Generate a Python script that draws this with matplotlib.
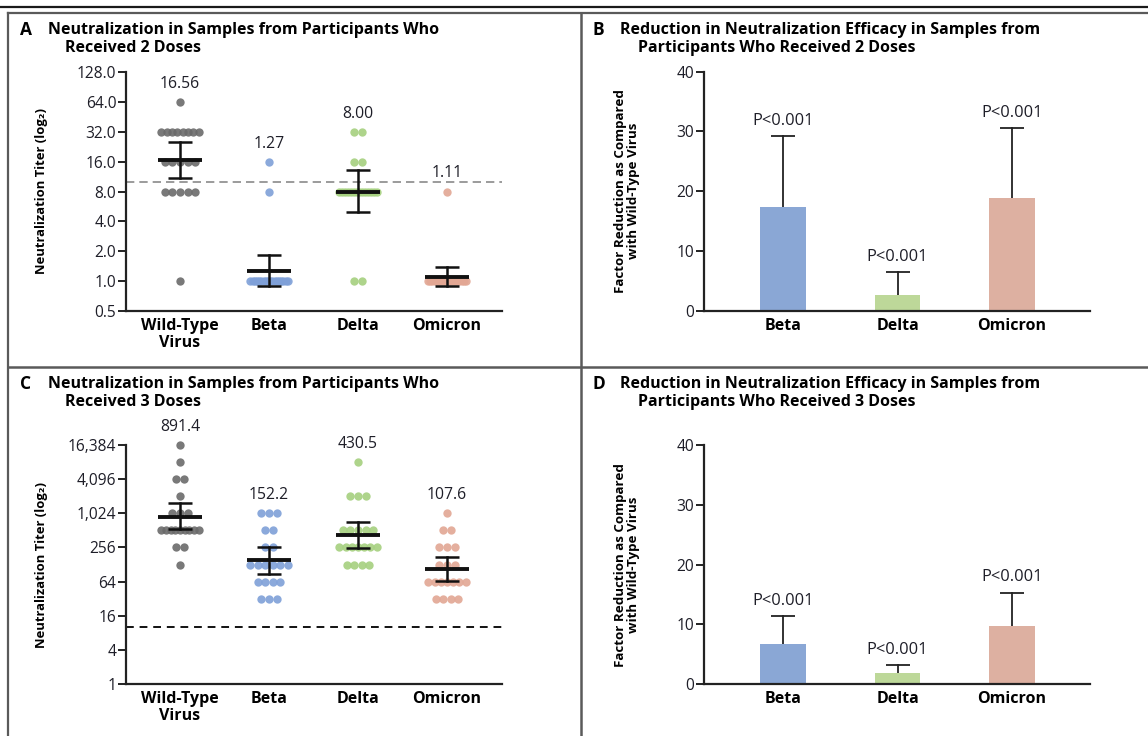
import numpy as np
import matplotlib
matplotlib.use("Agg")
import matplotlib.pyplot as plt
from matplotlib.lines import Line2D

# ---------------- data ----------------
categories = ['Wild-Type\nVirus', 'Beta', 'Delta', 'Omicron']
fold_categories = ['Beta', 'Delta', 'Omicron']

# Panel A: 2 doses, titer level -> number of samples
dose2_wt = {64: 1, 32: 8, 16: 5, 8: 5, 1: 1}
dose2_beta = {16: 1, 8: 1, 1: 18}
dose2_delta = {32: 2, 16: 2, 8: 14, 1: 2}
dose2_omicron = {8: 1, 1: 19}
dose2_gmt = [16.56, 1.27, 8.00, 1.11]
dose2_ci_low = [10.9, 0.90, 4.96, 0.90]
dose2_ci_high = [25.0, 1.83, 13.2, 1.39]

# Panel C: 3 doses
dose3_wt = {16384: 1, 8192: 1, 4096: 2, 2048: 1, 1024: 3, 512: 9, 256: 2, 128: 1}
dose3_beta = {1024: 3, 512: 2, 256: 2, 128: 6, 64: 4, 32: 3}
dose3_delta = {8192: 1, 2048: 3, 512: 5, 256: 7, 128: 4}
dose3_omicron = {1024: 1, 512: 2, 256: 3, 128: 3, 64: 7, 32: 4}
dose3_gmt = [891.4, 152.2, 430.5, 107.6]
dose3_ci_low = [541, 87, 250, 65]
dose3_ci_high = [1574, 256, 729, 171]

detection_limit = 10

# Panels B and D: factor reduction vs wild-type
dose2_fold = [17.4, 2.6, 18.9]
dose2_fold_upper = [29.2, 6.4, 30.6]
dose3_fold = [6.7, 1.9, 9.75]
dose3_fold_upper = [11.4, 3.2, 15.3]
p_labels = ['P<0.001', 'P<0.001', 'P<0.001']

dose2_ticks = [0.5, 1, 2, 4, 8, 16, 32, 64, 128]
dose3_ticks = [1, 4, 16, 64, 256, 1024, 4096, 16384]
fold_ticks = [0, 10, 20, 30, 40]

# ---------------- style ----------------
W, H = 1148, 736
dot_colors = ['#6a6a6a', '#7fa0d8', '#a5d07f', '#e2a794']
bar_colors = ['#8aa7d5', '#bdd899', '#ddb0a1']
BOLD = dict(family=['Open Sans', 'DejaVu Sans'], weight='bold')
REG = dict(family=['Open Sans', 'DejaVu Sans'])
txt_col = '#1e1e28'
axis_col = '#222222'

fig = plt.figure(figsize=(W / 100, H / 100), dpi=100)


def fx(px):
    return px / W


def fy(py):
    return 1 - py / H


def make_axes(left, right, top, bottom):
    return fig.add_axes([fx(left), fy(bottom), fx(right - left), (bottom - top) / H])


def style_axes(ax):
    for s in ['top', 'right']:
        ax.spines[s].set_visible(False)
    for s in ['left', 'bottom']:
        ax.spines[s].set_linewidth(1.6)
        ax.spines[s].set_color(axis_col)
    ax.tick_params(axis='y', length=6, width=1.4, color=axis_col, pad=1,
                   labelsize=11.2, labelcolor=txt_col)
    ax.tick_params(axis='x', length=0, pad=5, labelsize=11.5)
    for lab in ax.get_yticklabels():
        lab.set(**REG)


def scatter_panel(ax, groups, gmt, lo, hi, ticks, fmt):
    ax.set_yscale('log', base=2)
    for i, grp in enumerate(groups):
        for level, n in grp.items():
            step = min(0.085, 0.42 / max(n - 1, 1))
            offs = (np.arange(n) - (n - 1) / 2) * step
            ax.plot(i + offs, [level] * n, 'o', ms=6.0, color=dot_colors[i],
                    alpha=0.9, mec='none', zorder=2, clip_on=False)
        ax.plot([i - 0.25, i + 0.25], [gmt[i], gmt[i]], color='#111111', lw=2.8,
                solid_capstyle='butt', zorder=4)
        ax.plot([i, i], [lo[i], hi[i]], color='#111111', lw=1.8, zorder=4)
        for v in (lo[i], hi[i]):
            ax.plot([i - 0.13, i + 0.13], [v, v], color='#111111', lw=1.8,
                    solid_capstyle='butt', zorder=4)
        top = max(grp.keys())
        ax.annotate(f'{gmt[i]:,.2f}' if gmt[i] < 100 else f'{gmt[i]:,.1f}',
                    (i, top), xytext=(0, 13), textcoords='offset points',
                    ha='center', va='center', fontsize=11.3, color=txt_col, **REG)
    ax.set_xlim(-0.607, 3.618)
    ax.set_ylim(ticks[0], ticks[-1])
    ax.set_yticks(ticks)
    ax.set_yticklabels([fmt(t) for t in ticks])
    ax.minorticks_off()
    ax.set_xticks(range(len(categories)))
    ax.set_xticklabels(categories, linespacing=1.1, va='top', **BOLD)
    style_axes(ax)
    ax.text(-0.225, 0.5, 'Neutralization Titer (log\u2082)', transform=ax.transAxes,
            rotation=90, ha='center', va='center', fontsize=9.4, **BOLD)


def bar_panel(ax, vals, upper):
    x = np.arange(len(fold_categories))
    ax.bar(x, vals, width=0.40, color=bar_colors, zorder=2)
    for i in x:
        ax.plot([i, i], [vals[i], upper[i]], color='#222222', lw=1.3, zorder=1)
        ax.plot([i - 0.105, i + 0.105], [upper[i], upper[i]], color='#222222', lw=1.3,
                solid_capstyle='butt', zorder=1)
        ax.annotate(p_labels[i], (i, upper[i]), xytext=(0, 11), textcoords='offset points',
                    ha='center', va='center', fontsize=11.8, color=txt_col, **REG)
    ax.set_xlim(-0.69, 2.68)
    ax.set_ylim(0, 40)
    ax.set_yticks(fold_ticks)
    ax.set_xticks(x)
    ax.set_xticklabels(fold_categories, **BOLD)
    style_axes(ax)
    ax.text(-0.20, 0.5, 'Factor Reduction as Compared\nwith Wild-Type Virus',
            transform=ax.transAxes, rotation=90, ha='center', va='center',
            fontsize=9.6, linespacing=1.0, **BOLD)


# ---------------- panels ----------------
axA = make_axes(126, 502, 72, 311)
scatter_panel(axA, [dose2_wt, dose2_beta, dose2_delta, dose2_omicron],
              dose2_gmt, dose2_ci_low, dose2_ci_high, dose2_ticks, lambda t: f'{t:.1f}')
axA.axhline(detection_limit, color='#8a8a8a', lw=1.2, ls=(0, (5, 3)), zorder=1)

axC = make_axes(126, 502, 445, 684)
scatter_panel(axC, [dose3_wt, dose3_beta, dose3_delta, dose3_omicron],
              dose3_gmt, dose3_ci_low, dose3_ci_high, dose3_ticks, lambda t: f'{t:,}')
axC.axhline(detection_limit, color='#111111', lw=1.4, ls=(0, (4, 3)), zorder=1)

axB = make_axes(704, 1090, 71.7, 310.7)
bar_panel(axB, dose2_fold, dose2_fold_upper)

axD = make_axes(704, 1090, 445, 684.3)
bar_panel(axD, dose3_fold, dose3_fold_upper)

# ---------------- titles ----------------
def title(letter, x_letter, x_text, x_text2, y, line1, line2):
    fig.text(fx(x_letter), fy(y), letter, ha='left', va='center', fontsize=12.5, **BOLD)
    fig.text(fx(x_text), fy(y), line1, ha='left', va='center', fontsize=11.5, **BOLD)
    fig.text(fx(x_text2), fy(y + 17.5), line2, ha='left', va='center', fontsize=11.5, **BOLD)


title('A', 20, 48, 65, 30, 'Neutralization in Samples from Participants Who', 'Received 2 Doses')
title('B', 593, 620, 638, 30, 'Reduction in Neutralization Efficacy in Samples from',
      'Participants Who Received 2 Doses')
title('C', 20, 48, 65, 384, 'Neutralization in Samples from Participants Who', 'Received 3 Doses')
title('D', 592, 620, 638, 384, 'Reduction in Neutralization Efficacy in Samples from',
      'Participants Who Received 3 Doses')

# ---------------- frames ----------------
frame_col = '#5a5a5a'
fig.add_artist(Line2D([0, 1], [fy(7), fy(7)], color='#1a1a1a', lw=1.6))
fig.add_artist(Line2D([fx(8), 1], [fy(12.5), fy(12.5)], color=frame_col, lw=1.6))
fig.add_artist(Line2D([fx(8), 1], [fy(367), fy(367)], color=frame_col, lw=1.8))
fig.add_artist(Line2D([fx(8), fx(8)], [0, fy(12.5)], color=frame_col, lw=1.6))
fig.add_artist(Line2D([fx(581), fx(581)], [0, fy(12.5)], color=frame_col, lw=1.8))

fig.savefig('out.png', dpi=100)
